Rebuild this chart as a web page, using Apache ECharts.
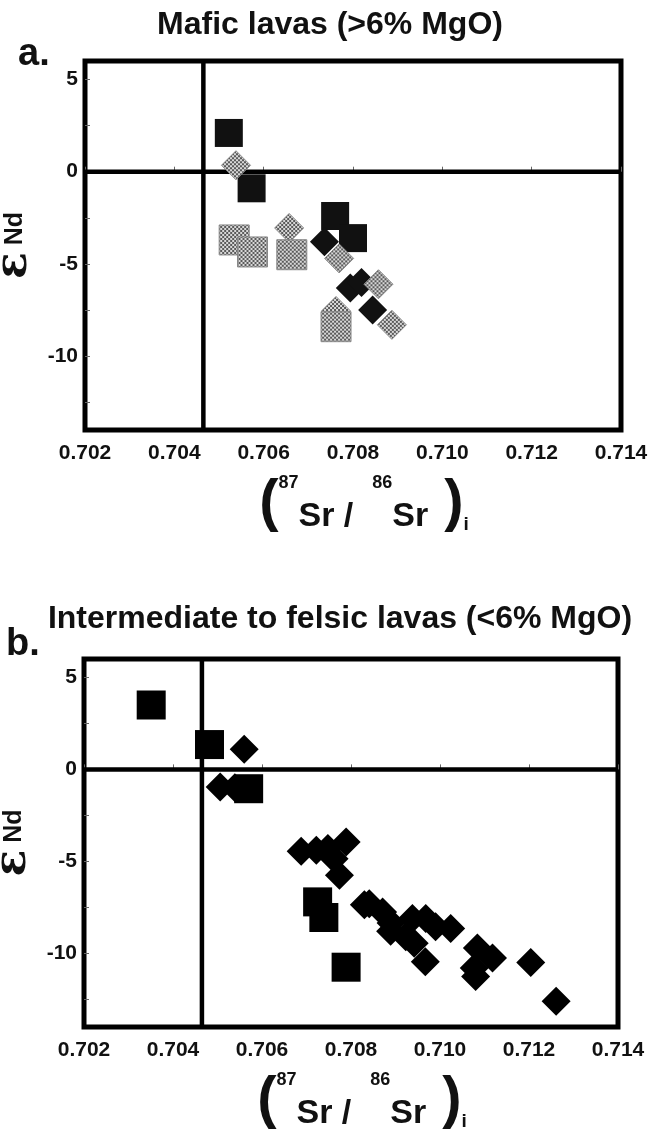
<!DOCTYPE html>
<html><head><meta charset="utf-8">
<script src="https://cdn.jsdelivr.net/npm/echarts@6/dist/echarts.min.js"></script>
<style>html,body{margin:0;padding:0;background:#fff}#c{width:654px;height:1139px}</style>
</head><body><div id="c"></div>
<script>
// ---- data ----
const xTicks = [0.702, 0.704, 0.706, 0.708, 0.710, 0.712, 0.714];
const yTicks = [5, 0, -5, -10];
const yMinorTicks = [5, 2.5, 0, -2.5, -5, -7.5, -10, -12.5];
const refSr = 0.70465;
const refNd = 0;

// panel a: mafic lavas
const aBlackSquares = [[0.70522, 2.1], [0.70573, -0.9], [0.70760, -2.4], [0.70800, -3.6]];
const aBlackDiamonds = [[0.70736, -3.8], [0.70794, -6.3], [0.70819, -6.0], [0.70844, -7.5]];
const aGrayDiamonds = [[0.70538, 0.35], [0.70657, -3.05], [0.70769, -4.7], [0.70857, -6.1], [0.70887, -8.3], [0.70762, -7.55]];
const aGraySquares = [[0.70534, -3.7], [0.70575, -4.35], [0.70663, -4.5], [0.70762, -8.4]];

// panel b: intermediate to felsic lavas
const bSquares = [[0.70351, 3.5], [0.70482, 1.35], [0.70570, -1.05], [0.70725, -7.2], [0.70739, -8.05], [0.70789, -10.75]];
const bDiamonds = [[0.70560, 1.1], [0.70506, -0.95], [0.70539, -1.0], [0.70688, -4.45], [0.70722, -4.4], [0.70748, -4.3],
  [0.70789, -3.95], [0.70762, -4.85], [0.70774, -5.75], [0.70830, -7.35], [0.70841, -7.3], [0.70871, -7.75],
  [0.70890, -8.35], [0.70889, -8.8], [0.70923, -9.1], [0.70942, -9.45], [0.70938, -8.1], [0.70968, -8.1],
  [0.70990, -8.55], [0.71024, -8.65], [0.70967, -10.45], [0.71084, -9.7], [0.71118, -10.25], [0.71077, -10.8],
  [0.71080, -11.25], [0.71204, -10.5], [0.71261, -12.6]];

const titles = ['Mafic lavas (>6% MgO)', 'Intermediate to felsic lavas (<6% MgO)'];
const panelLetters = ['a.', 'b.'];

// ---- pattern for gray (stippled) markers ----
const pc = document.createElement('canvas');
pc.width = 4; pc.height = 4;
const g = pc.getContext('2d');
g.fillStyle = '#d8d8d8'; g.fillRect(0, 0, 4, 4);
g.fillStyle = '#5a5a5a'; g.fillRect(0, 0, 2, 2); g.fillRect(2, 2, 2, 2);
function grayPattern(size) {
  // symbols are drawn as unit paths scaled by size/2; counter-scale the pattern
  const k = 2 / size;
  return { image: pc, repeat: 'repeat', scaleX: k, scaleY: k };
}

const FONT = 'Liberation Sans, Arial, sans-serif';
const grids = [
  { left: 85, top: 61, width: 536, height: 369 },
  { left: 84, top: 659, width: 534, height: 368 }
];

function xAxis(i) {
  return {
    type: 'value', gridIndex: i, min: 0.702, max: 0.714,
    axisLine: { show: false }, splitLine: { show: false },
    axisTick: { show: true, inside: true, length: 5, customValues: xTicks, lineStyle: { color: '#666', width: 1 } },
    axisLabel: { customValues: xTicks, formatter: v => v.toFixed(3), fontSize: 21, fontWeight: 'bold', color: '#111', fontFamily: FONT, margin: 13 },
    name: '{p|(}{s|87}{m|Sr}{m| /  }{s|86}{m|Sr}{p| )}{i|i}',
    nameLocation: 'middle', nameGap: 44,
    nameTextStyle: {
      color: '#111', fontFamily: FONT, padding: [0, 0, 0, 22],
      rich: {
        p: { fontSize: 58, fontWeight: 'bold', lineHeight: 60, fontFamily: FONT, verticalAlign: 'middle' },
        s: { fontSize: 18, fontWeight: 'bold', lineHeight: 22, fontFamily: FONT, verticalAlign: 'top' },
        m: { fontSize: 34, fontWeight: 'bold', lineHeight: 42, fontFamily: FONT, verticalAlign: 'bottom' },
        i: { fontSize: 19, fontWeight: 'bold', lineHeight: 20, fontFamily: FONT, verticalAlign: 'bottom' }
      }
    }
  };
}
function yAxis(i) {
  return {
    type: 'value', gridIndex: i, min: -14, max: 6,
    axisLine: { show: false }, splitLine: { show: false },
    axisTick: { show: true, inside: true, length: 5, customValues: yMinorTicks, lineStyle: { color: '#666', width: 1 } },
    axisLabel: { customValues: yTicks, fontSize: 21, fontWeight: 'bold', color: '#111', fontFamily: FONT, margin: 7 },
    name: '{e|ε}{n| Nd}', nameLocation: 'middle', nameGap: 33,
    nameTextStyle: {
      color: '#111',
      rich: {
        e: { fontSize: 44, fontWeight: 'bold', fontFamily: 'DejaVu Serif', lineHeight: 44 },
        n: { fontSize: 25, fontWeight: 'bold', fontFamily: FONT, lineHeight: 44 }
      }
    }
  };
}
function refLines(i) {
  return [
    { type: 'line', xAxisIndex: i, yAxisIndex: i, data: [[refSr, -14], [refSr, 6]], showSymbol: false, symbol: 'none', z: 1,
      lineStyle: { color: '#000', width: 4.5 }, silent: true, animation: false },
    { type: 'line', xAxisIndex: i, yAxisIndex: i, data: [[0.702, refNd], [0.714, refNd]], showSymbol: false, symbol: 'none', z: 1,
      lineStyle: { color: '#000', width: 4.5 }, silent: true, animation: false }
  ];
}
function scatter(i, data, symbol, size, color, border) {
  return {
    type: 'scatter', xAxisIndex: i, yAxisIndex: i, data: data, symbol: symbol, symbolSize: size, z: 2,
    itemStyle: { color: color, borderColor: border || color, borderWidth: border ? 1 : 0, opacity: 1 },
    animation: false, silent: true
  };
}

const chart = echarts.init(document.getElementById('c'), null, { renderer: 'canvas' });
chart.setOption({
  backgroundColor: '#fff',
  animation: false,
  title: [
    { text: titles[0], left: 330, top: 9, textAlign: 'center', padding: 0, textStyle: { fontSize: 32, fontWeight: 'bold', color: '#111', fontFamily: FONT } },
    { text: panelLetters[0], left: 18, top: 36, padding: 0, textStyle: { fontSize: 38, fontWeight: 'bold', color: '#111', fontFamily: FONT } },
    { text: titles[1], left: 340, top: 603, textAlign: 'center', padding: 0, textStyle: { fontSize: 32, fontWeight: 'bold', color: '#111', fontFamily: FONT } },
    { text: panelLetters[1], left: 6, top: 626, padding: 0, textStyle: { fontSize: 38, fontWeight: 'bold', color: '#111', fontFamily: FONT } }
  ],
  grid: grids.map(gr => Object.assign({ show: true, borderColor: '#000', borderWidth: 5, backgroundColor: 'transparent', containLabel: false, outerBoundsMode: 'none' }, gr)),
  xAxis: [xAxis(0), xAxis(1)],
  yAxis: [yAxis(0), yAxis(1)],
  series: [].concat(
    refLines(0),
    [scatter(0, aBlackSquares, 'rect', 28, '#111'),
     scatter(0, aBlackDiamonds, 'diamond', 29, '#111'),
     scatter(0, aGrayDiamonds, 'diamond', 29, grayPattern(29), '#888'),
     scatter(0, aGraySquares, 'rect', 30, grayPattern(30), '#888')],
    refLines(1),
    [scatter(1, bSquares, 'rect', 29, '#000'),
     scatter(1, bDiamonds, 'diamond', 29, '#000')]
  )
});
</script>
</body></html>
